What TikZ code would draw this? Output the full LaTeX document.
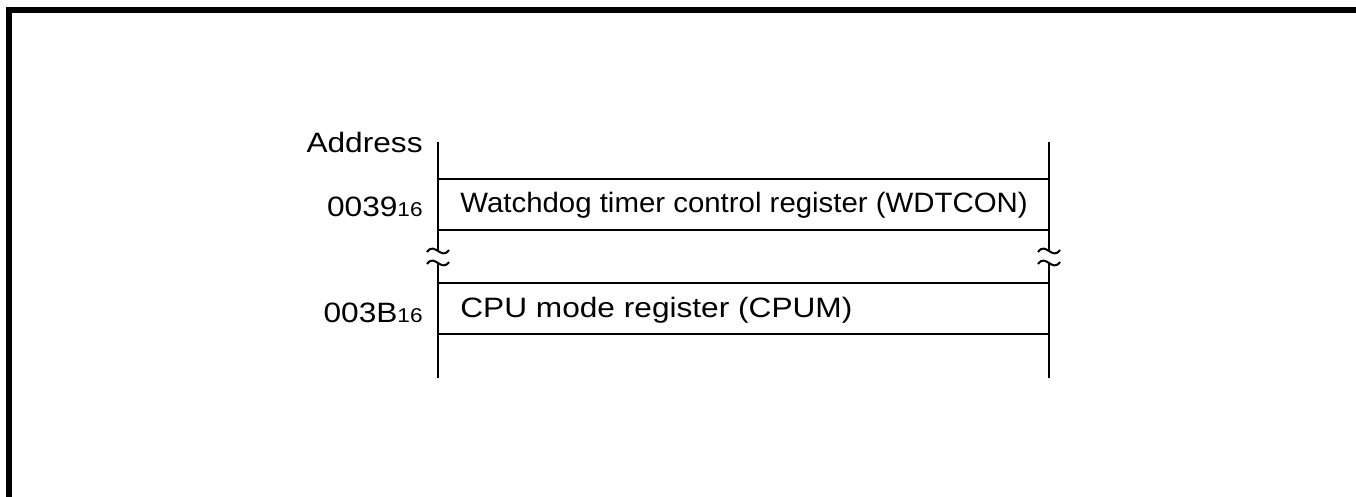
\documentclass[tikz,border=0pt]{standalone}
\usepackage{fontspec}
\setmainfont{Liberation Sans}
\newcommand{\smallsub}[1]{{\fontsize{10}{12}\selectfont #1}}
\newcommand{\wtxt}[2]{\scalebox{#1}[1]{#2}}
\begin{document}
\begin{tikzpicture}[x=0.5pt,y=-0.5pt,
  rule/.style={line width=1pt},
  lbl/.style={inner sep=0pt,font=\fontsize{14}{17}\selectfont},
  wave/.style={line width=1pt}]
\useasboundingbox (0,0) rectangle (1356,497);
% frame
\draw[line width=3pt] (8.5,497) -- (8.5,10.5) -- (1356,10.5);
% coordinates
\coordinate (LT) at (438,142);
\coordinate (LB) at (438,378);
\coordinate (RT) at (1049,142);
\coordinate (RB) at (1049,378);
\coordinate (LW1) at (438,251);
\coordinate (LW2) at (438,263);
\coordinate (RW1) at (1049,251);
\coordinate (RW2) at (1049,263);
% vertical lines with break
\draw[rule] (LT) -- (LW1);
\draw[rule] (LW2) -- (LB);
\draw[rule] (RT) -- (RW1);
\draw[rule] (RW2) -- (RB);
% horizontal lines
\foreach \y/\n in {179/a,230/b,283/c,334/d}{
  \coordinate (hl\n) at (438,\y);
  \coordinate (hr\n) at (1049,\y);
  \draw[rule] (hl\n) -- (hr\n);
}
% break marks
\foreach \c in {LW1,LW2,RW1,RW2}{
  \draw[wave] ([xshift=-5.5pt,yshift=-0.5pt]\c) .. controls ([xshift=-1.5pt,yshift=5pt]\c) and ([xshift=1.5pt,yshift=-5pt]\c) .. ([xshift=5.5pt,yshift=0.5pt]\c);
}
% labels
\node[lbl,anchor=base east] (addr) at (423,153) {\wtxt{1.13}{Address}};
\node[lbl,anchor=base east] (a39) at (423,217) {\wtxt{1.13}{0039\smallsub{16}}};
\node[lbl,anchor=base east] (a3b) at (423,323) {\wtxt{1.13}{003B\smallsub{16}}};
\node[lbl,anchor=base west] (wdt) at (460,213) {\wtxt{1.05}{Watchdog timer control register (WDTCON)}};
\node[lbl,anchor=base west] (cpum) at (460,318) {\wtxt{1.13}{CPU mode register (CPUM)}};
\end{tikzpicture}
\end{document}
